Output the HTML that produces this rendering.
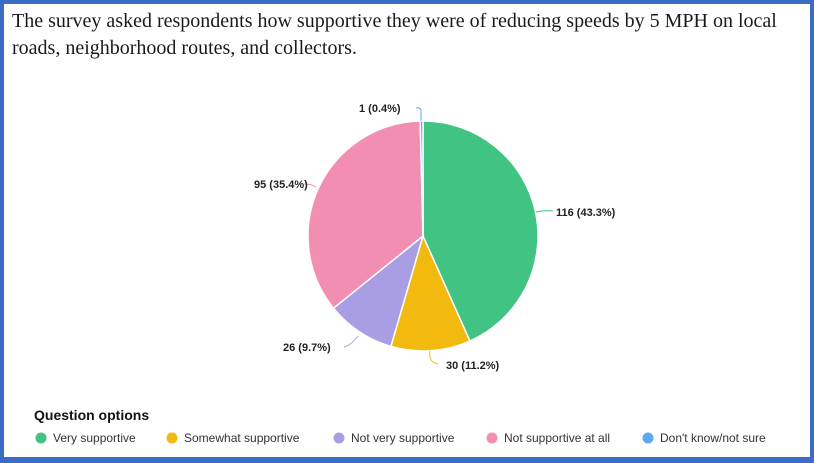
<!DOCTYPE html>
<html><head><meta charset="utf-8"><style>
html,body{margin:0;padding:0;background:#fff}
.wrap{position:relative;width:814px;height:463px;box-sizing:border-box;border:4px solid #3b6cc6;border-bottom-width:6px;background:#fff;overflow:hidden}
.title{position:absolute;left:8px;top:4px;font-family:"Liberation Serif",serif;font-size:20px;line-height:27px;color:#1a1a1a;width:778px}
svg{position:absolute;left:-4px;top:-4px}
</style></head><body>
<div class="wrap">
<div class="title">The survey asked respondents how supportive they were of reducing speeds by 5 MPH on local roads, neighborhood routes, and collectors.</div>
<svg width="814" height="463" font-family="Liberation Sans, Arial, sans-serif">
<g stroke="#fff" stroke-width="1.5">
<path d="M423,236 L423,121 A115,115 0 0,1 469.9,341 Z" fill="#41c383"/>
<path d="M423,236 L469.9,341 A115,115 0 0,1 390.9,346.4 Z" fill="#f2b90f"/>
<path d="M423,236 L390.9,346.4 A115,115 0 0,1 333.5,308.2 Z" fill="#a99de4"/>
<path d="M423,236 L333.5,308.2 A115,115 0 0,1 420.2,121 Z" fill="#f18eb1"/>
<path d="M423,236 L420.2,121 A115,115 0 0,1 423,121 Z" fill="#5aaaf0"/>
</g>
<g fill="none" stroke-width="1">
<path d="M536,212 Q545,210 553,211" stroke="#41c383"/>
<path d="M316,187 Q312,184 304,184" stroke="#f18eb1"/>
<path d="M358,336 Q350,346 344,347" stroke="#a99de4"/>
<path d="M430,351 Q428,362 438,364" stroke="#f2b90f"/>
<path d="M421,121 L421,110 Q420,107 416,108" stroke="#5aaaf0"/>
</g>
<g font-size="11" font-weight="bold" fill="#222">
<text x="556" y="216">116 (43.3%)</text>
<text x="254" y="188">95 (35.4%)</text>
<text x="283" y="351">26 (9.7%)</text>
<text x="446" y="369">30 (11.2%)</text>
<text x="359" y="112">1 (0.4%)</text>
</g>
<text x="34" y="420" font-size="14" font-weight="bold" fill="#111">Question options</text>
<g font-size="12" fill="#333">
<circle cx="41" cy="438" r="5.5" fill="#41c383"/><text x="53" y="442">Very supportive</text>
<circle cx="172" cy="438" r="5.5" fill="#f2b90f"/><text x="184" y="442">Somewhat supportive</text>
<circle cx="339" cy="438" r="5.5" fill="#a99de4"/><text x="351" y="442">Not very supportive</text>
<circle cx="492" cy="438" r="5.5" fill="#f18eb1"/><text x="504" y="442">Not supportive at all</text>
<circle cx="648" cy="438" r="5.5" fill="#5aaaf0"/><text x="660" y="442">Don't know/not sure</text>
</g>
</svg>
</div>
</body></html>
